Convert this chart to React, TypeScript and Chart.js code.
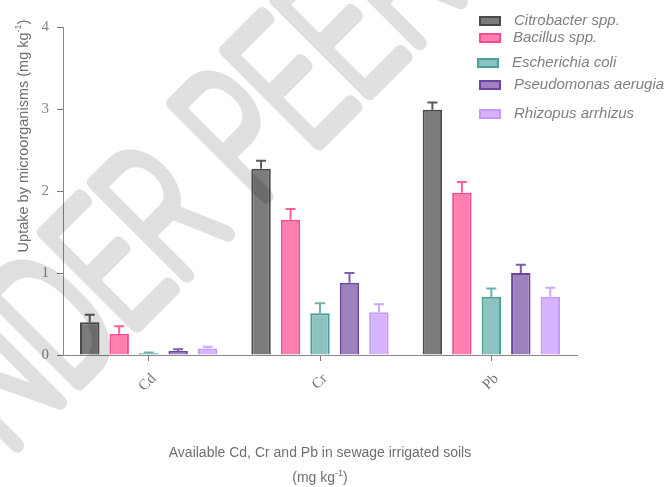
import React, { useEffect, useRef } from "react";
import { Chart, registerables } from "chart.js";

Chart.register(...registerables);

const metals = ["Cd", "Cr", "Pb"];
const organisms = [
  "Citrobacter spp.",
  "Bacillus spp.",
  "Escherichia coli",
  "Pseudomonas aerugia",
  "Rhizopus arrhizus",
];
const citrobacter = [0.4, 2.27, 2.99];
const citrobacterErr = [0.09, 0.1, 0.09];
const bacillus = [0.26, 1.65, 1.98];
const bacillusErr = [0.09, 0.13, 0.13];
const ecoli = [0.02, 0.51, 0.71];
const ecoliErr = [0.01, 0.12, 0.1];
const pseudomonas = [0.05, 0.88, 1.0];
const pseudomonasErr = [0.02, 0.12, 0.1];
const rhizopus = [0.08, 0.52, 0.71];
const rhizopusErr = [0.02, 0.1, 0.11];
const yTicks = [0, 1, 2, 3, 4];
const watermarkPre = "UNDER ";
const watermark = "UNDER PEER REVIEW";

const fills = ["#7b7b7b", "#ff80b0", "#8cc2bf", "#9d82bf", "#d5b3ff"];
const borders = ["#4a4a4a", "#ff4a90", "#4a9e99", "#6b45a0", "#c598ff"];
const errColors = ["#5a5a5a", "#ff5c98", "#6ab3ae", "#7d5eaa", "#cda8ff"];

const seriesValues = [citrobacter, bacillus, ecoli, pseudomonas, rhizopus];
const seriesErrors = [citrobacterErr, bacillusErr, ecoliErr, pseudomonasErr, rhizopusErr];

const errorBarPlugin = {
  id: "errorBars",
  afterDatasetsDraw(chart: any) {
    const ctx = chart.ctx;
    const yScale = chart.scales.y;
    chart.data.datasets.forEach((ds: any, di: number) => {
      const meta = chart.getDatasetMeta(di);
      meta.data.forEach((bar: any, i: number) => {
        const v = ds.data[i];
        const e = ds.errors[i];
        const yTop = yScale.getPixelForValue(v + e);
        const yBase = bar.y;
        ctx.save();
        ctx.strokeStyle = ds.errColor;
        ctx.lineWidth = 2;
        ctx.beginPath();
        ctx.moveTo(bar.x, yBase);
        ctx.lineTo(bar.x, yTop);
        ctx.moveTo(bar.x - 5, yTop);
        ctx.lineTo(bar.x + 5, yTop);
        ctx.stroke();
        ctx.restore();
      });
    });
  },
};

const SANS = '"Liberation Sans", Arial, sans-serif';

function drawSup(ctx: CanvasRenderingContext2D, parts: [string, boolean][], x: number, y: number, size: number) {
  let cx = x;
  parts.forEach(([t, sup]) => {
    ctx.font = sup ? `${Math.round(size * 0.65)}px ${SANS}` : `${size}px ${SANS}`;
    ctx.fillText(t, cx, sup ? y - size * 0.45 : y);
    cx += ctx.measureText(t).width;
  });
  return cx - x;
}

function measureSup(ctx: CanvasRenderingContext2D, parts: [string, boolean][], size: number) {
  let w = 0;
  parts.forEach(([t, sup]) => {
    ctx.font = sup ? `${Math.round(size * 0.65)}px ${SANS}` : `${size}px ${SANS}`;
    w += ctx.measureText(t).width;
  });
  return w;
}

const decorPlugin = {
  id: "decor",
  afterDraw(chart: any) {
    const ctx: CanvasRenderingContext2D = chart.ctx;
    ctx.save();
    ctx.fillStyle = "#6f6f6f";
    ctx.textBaseline = "alphabetic";
    ctx.textAlign = "left";

    // Y axis title
    const yParts: [string, boolean][] = [["Uptake by microorganisms (mg kg", false], ["-1", true], [")", false]];
    const yw = measureSup(ctx, yParts, 14.5);
    ctx.save();
    ctx.translate(28, 136);
    ctx.rotate(-Math.PI / 2);
    drawSup(ctx, yParts, -yw / 2, 0, 14.5);
    ctx.restore();

    // X axis title
    ctx.font = `14px ${SANS}`;
    const l1 = "Available Cd, Cr and Pb in sewage irrigated soils";
    const w1 = ctx.measureText(l1).width;
    ctx.fillText(l1, 320 - w1 / 2, 457);
    const xParts: [string, boolean][] = [["(mg kg", false], ["-1", true], [")", false]];
    const xw = measureSup(ctx, xParts, 14);
    drawSup(ctx, xParts, 320 - xw / 2, 482, 14);

    // Legend
    const legendY = [21, 38, 63, 85, 114];
    const boxX = [479, 479, 477, 479, 479];
    const textX = [514, 513, 512, 514, 514];
    chart.data.datasets.forEach((ds: any, i: number) => {
      ctx.fillStyle = ds.backgroundColor;
      ctx.strokeStyle = ds.borderColor;
      ctx.lineWidth = 2;
      ctx.fillRect(boxX[i] + 1, legendY[i] - 4, 20, 8);
      ctx.strokeRect(boxX[i] + 1, legendY[i] - 4, 20, 8);
      ctx.fillStyle = "#808080";
      ctx.font = `italic 15px ${SANS}`;
      ctx.textBaseline = "middle";
      ctx.fillText(ds.label, textX[i], legendY[i]);
    });

    // Watermark
    ctx.save();
    ctx.font = `100 182px Roboto, "Liberation Sans", sans-serif`;
    ctx.textBaseline = "alphabetic";
    const wPre = ctx.measureText(watermarkPre).width;
    const lsbP = -ctx.measureText("P").actualBoundingBoxLeft;
    ctx.translate(264, 197);
    ctx.rotate(-Math.PI / 4);
    ctx.scale(0.686, 1);
    ctx.strokeStyle = "rgba(0,0,0,0.125)";
    ctx.lineWidth = 16;
    ctx.lineJoin = "round";
    ctx.lineCap = "round";
    ctx.strokeText(watermark, -(wPre + lsbP), 0);
    ctx.restore();

    ctx.restore();
  },
};

export default function App() {
  const ref = useRef<HTMLCanvasElement>(null);
  useEffect(() => {
    if (!ref.current) return;
    const chart = new Chart(ref.current, {
      type: "bar",
      data: {
        labels: metals,
        datasets: organisms.map((name, i) => ({
          label: name,
          data: seriesValues[i],
          errors: seriesErrors[i],
          errColor: errColors[i],
          backgroundColor: fills[i],
          borderColor: borders[i],
          borderWidth: 2,
          categoryPercentage: 0.86,
          barPercentage: 0.66,
        })) as any,
      },
      options: {
        animation: false,
        responsive: true,
        maintainAspectRatio: false,
        layout: { padding: { top: 27, right: 88, left: 0, bottom: 0 } },
        plugins: {
          legend: { display: false },
          tooltip: { enabled: false },
        },
        scales: {
          x: {
            offset: true,
            grid: { display: true, drawOnChartArea: false, drawTicks: true, tickLength: 6, offset: false, color: "#777" },
            border: { color: "#888", width: 1 },
            ticks: {
              minRotation: 45,
              maxRotation: 45,
              color: "#777",
              padding: 9,
              labelOffset: 5,
              font: { family: '"Liberation Serif", "Times New Roman", serif', size: 15 },
            },
            afterFit(scale: any) {
              scale.height = 132;
            },
          },
          y: {
            min: yTicks[0],
            max: yTicks[yTicks.length - 1],
            afterBuildTicks(scale: any) {
              scale.ticks = yTicks.map((v) => ({ value: v }));
            },
            grid: { display: true, drawOnChartArea: false, drawTicks: true, tickLength: 6, color: "#777" },
            border: { color: "#888", width: 1 },
            ticks: {
              color: "#888",
              padding: 8,
              font: { family: '"Liberation Serif", "Times New Roman", serif', size: 15 },
            },
            afterFit(scale: any) {
              scale.width = 63;
            },
          },
        },
      },
      plugins: [errorBarPlugin, decorPlugin],
    });
    return () => chart.destroy();
  }, []);
  return (
    <div style={{ position: "fixed", left: 0, top: 0, width: 665, height: 487, background: "#fff" }}>
      <canvas ref={ref} />
    </div>
  );
}
